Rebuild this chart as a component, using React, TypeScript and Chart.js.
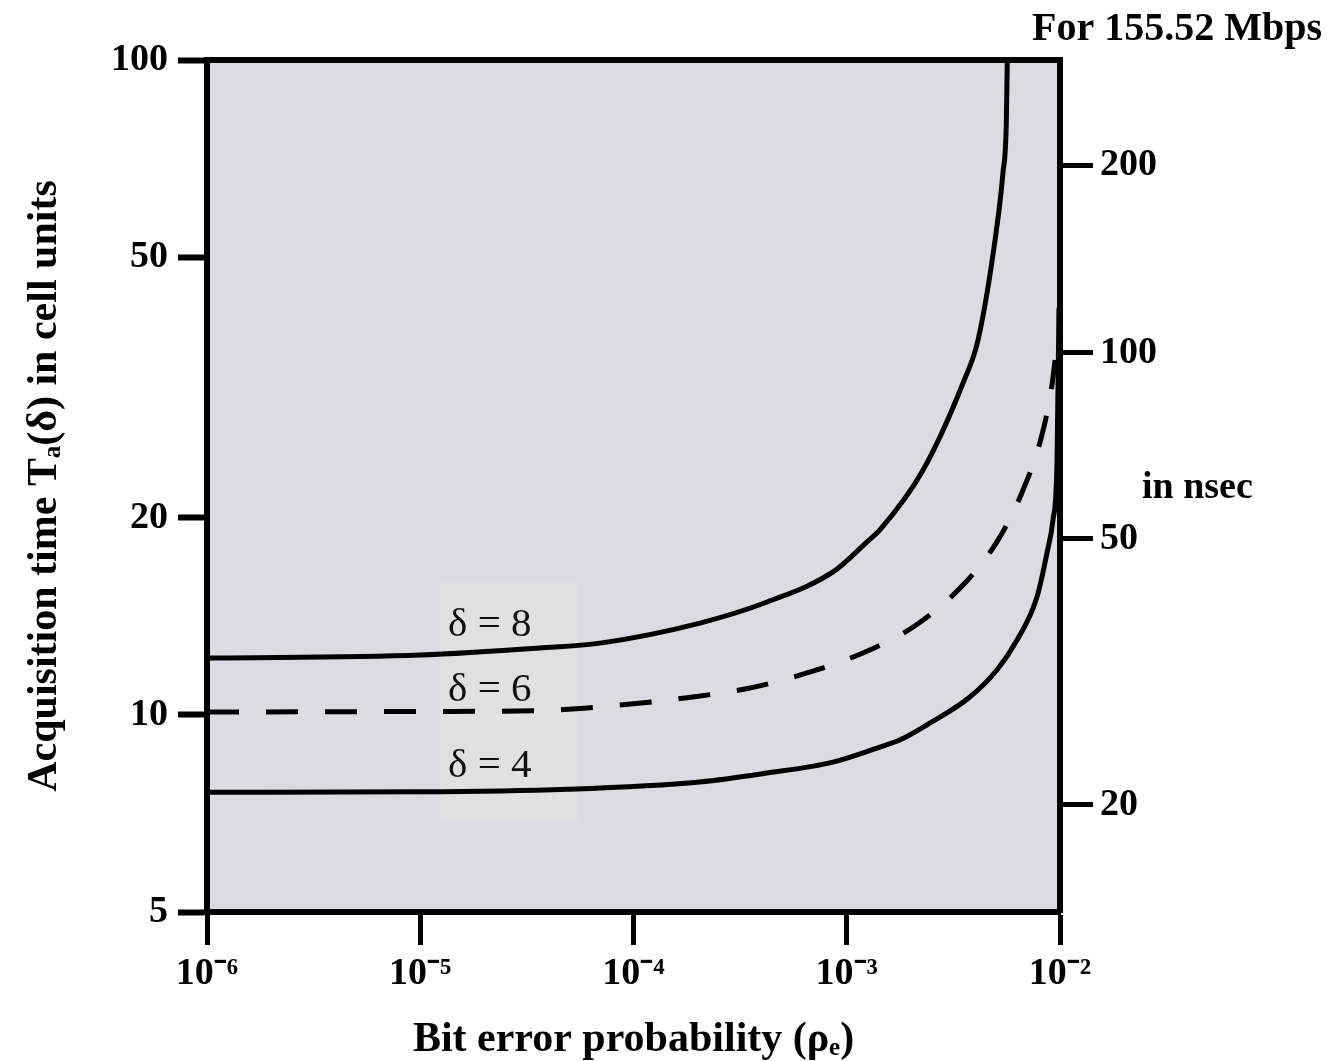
import React, { useEffect, useRef } from 'react';
import { Chart, registerables } from 'chart.js';

Chart.register(...registerables);

// ---- axis ticks ----
const xTicks = [1e-6, 1e-5, 1e-4, 1e-3, 1e-2];
const xTickLabels = ['10⁻⁶', '10⁻⁵', '10⁻⁴', '10⁻³', '10⁻²'];
const yTicks = [5, 10, 20, 50, 100];
const yTickLabels = ['5', '10', '20', '50', '100'];
// right axis (time at 155.52 Mbps), placed at the equivalent cell values
const rightTickCells = [7.29, 18.56, 35.7, 69.1];
const rightTickLabels = ['20', '50', '100', '200'];

// ---- series ----
const delta8X = [1e-6, 1e-5, 3.64e-5, 6.97e-5, 2.05e-4, 4.23e-4, 8.62e-4, 1.245e-3, 1.43e-3, 2.28e-3, 3.51e-3, 4.13e-3, 4.96e-3, 5.4e-3, 5.6e-3, 5.66e-3];
const delta8Y = [12.21, 12.34, 12.65, 12.87, 13.81, 14.87, 16.53, 18.37, 19.16, 23.65, 32.12, 37.4, 53.1, 67.2, 80, 100];

const delta6X = [1e-6, 1e-5, 3.6e-5, 8.64e-5, 1.9e-4, 3.52e-4, 6.51e-4, 1.19e-3, 2.05e-3, 3.4e-3, 5.06e-3, 6.71e-3, 8.23e-3, 9.17e-3, 9.48e-3];
const delta6Y = [10.1, 10.12, 10.15, 10.35, 10.65, 10.99, 11.59, 12.43, 13.62, 15.62, 18.37, 22.05, 26.76, 31.89, 34.83];

const delta4X = [1e-6, 1e-5, 4.93e-5, 2.05e-4, 4.23e-4, 8.62e-4, 1.43e-3, 1.78e-3, 2.46e-3, 3.78e-3, 5.06e-3, 6.29e-3, 7.8e-3, 8.69e-3, 9.27e-3, 9.68e-3, 9.89e-3];
const delta4Y = [7.62, 7.63, 7.7, 7.9, 8.15, 8.47, 8.93, 9.16, 9.72, 10.65, 11.71, 13.01, 15.14, 17.67, 19.84, 24.25, 41.8];

const seriesNames = ['δ = 8', 'δ = 6', 'δ = 4'];
const seriesLabelX = [2.12e-5, 2.12e-5, 2.12e-5];
const seriesLabelY = [13.72, 10.92, 8.36];

const titleText = 'For 155.52 Mbps';
const rightUnitText = 'in nsec';
const xTitle = 'Bit error probability (ρₑ)';
const yTitle = 'Acquisition time Tₐ(δ) in cell units';

const FONT = '"Liberation Serif", "Times New Roman", serif';

const toPts = (xs: number[], ys: number[]) => xs.map((x, i) => ({ x, y: ys[i] }));

const decor = {
  id: 'decor',
  beforeDraw(chart: any) {
    const { ctx, chartArea: a, scales } = chart;
    ctx.save();
    ctx.fillStyle = '#dcdbdf';
    ctx.fillRect(a.left, a.top, a.right - a.left, a.bottom - a.top);
    // lighter box behind the curve labels
    const bx0 = scales.x.getPixelForValue(1.24e-5);
    const bx1 = scales.x.getPixelForValue(5.5e-5);
    const by0 = scales.y.getPixelForValue(15.9);
    const by1 = scales.y.getPixelForValue(6.91);
    ctx.fillStyle = '#e0e0e1';
    ctx.fillRect(bx0, by0, bx1 - bx0, by1 - by0);
    ctx.restore();
  },
  afterDatasetsDraw(chart: any) {
    const { ctx, scales } = chart;
    ctx.save();
    ctx.fillStyle = '#111';
    ctx.font = `41px ${FONT}`;
    ctx.textAlign = 'center';
    ctx.textBaseline = 'middle';
    seriesNames.forEach((n, i) => {
      ctx.fillText(n, scales.x.getPixelForValue(seriesLabelX[i]), scales.y.getPixelForValue(seriesLabelY[i]));
    });
    ctx.restore();
  },
  afterDraw(chart: any) {
    const { ctx, chartArea: a } = chart;
    ctx.save();
    ctx.strokeStyle = '#000';
    ctx.lineWidth = 6;
    ctx.beginPath();
    ctx.moveTo(a.left - 3, a.top);
    ctx.lineTo(a.right + 3, a.top);
    ctx.stroke();
    ctx.fillStyle = '#000';
    ctx.font = `bold 38px ${FONT}`;
    ctx.textAlign = 'left';
    ctx.textBaseline = 'middle';
    ctx.fillText(rightUnitText, a.right + 82, a.top + 428);
    ctx.restore();
  },
};

export default function App() {
  const ref = useRef<HTMLCanvasElement | null>(null);
  useEffect(() => {
    if (!ref.current) return;
    const lineStyle = { borderColor: '#000', borderWidth: 5, pointRadius: 0, fill: false, cubicInterpolationMode: 'monotone' as const };
    const chart = new Chart(ref.current, {
      type: 'line',
      data: {
        datasets: [
          { label: seriesNames[0], data: toPts(delta8X, delta8Y), ...lineStyle },
          { label: seriesNames[1], data: toPts(delta6X, delta6Y), ...lineStyle, borderDash: [32, 27] },
          { label: seriesNames[2], data: toPts(delta4X, delta4Y), ...lineStyle },
        ],
      },
      options: {
        animation: false,
        responsive: false,
        layout: { padding: { left: 0, right: 5, top: 0, bottom: 0 } },
        plugins: {
          legend: { display: false },
          tooltip: { enabled: false },
          title: {
            display: true,
            text: titleText,
            align: 'end',
            position: 'top',
            color: '#000',
            font: { family: FONT, size: 40, weight: 'bold', lineHeight: 1.2 },
            padding: { top: 6, bottom: 6 },
          },
        },
        scales: {
          x: {
            type: 'logarithmic',
            position: 'bottom',
            min: 1e-6,
            max: 1e-2,
            afterBuildTicks: (s: any) => { s.ticks = xTicks.map((v) => ({ value: v })); },
            afterFit: (s: any) => { s.height = 149; },
            ticks: {
              autoSkip: false,
              maxRotation: 0,
              padding: 6,
              color: '#000',
              font: { family: FONT, size: 38, weight: 'bold', lineHeight: 1.2 },
              callback: (_v: any, i: number) => xTickLabels[i],
            },
            grid: { display: true, drawOnChartArea: false, drawTicks: true, tickLength: 33, tickWidth: 5, tickColor: '#000', color: '#000' },
            border: { display: true, width: 6, color: '#000' },
            title: {
              display: true,
              text: xTitle,
              color: '#000',
              font: { family: FONT, size: 42, weight: 'bold', lineHeight: 1.0 },
              padding: { top: 0, bottom: 0 },
            },
          },
          y: {
            type: 'logarithmic',
            position: 'left',
            min: 5,
            max: 100,
            afterBuildTicks: (s: any) => { s.ticks = yTicks.map((v) => ({ value: v })); },
            afterFit: (s: any) => { s.width = 207; },
            ticks: {
              autoSkip: false,
              padding: 10,
              color: '#000',
              font: { family: FONT, size: 38, weight: 'bold', lineHeight: 1.2 },
              callback: (_v: any, i: number) => yTickLabels[i],
            },
            grid: { display: true, drawOnChartArea: false, drawTicks: true, tickLength: 29, tickWidth: 6, tickColor: '#000', color: '#000' },
            border: { display: true, width: 6, color: '#000' },
            title: {
              display: true,
              text: yTitle,
              color: '#000',
              font: { family: FONT, size: 42, weight: 'bold', lineHeight: 1.0 },
              padding: { top: 24, bottom: 0 },
            },
          },
          y2: {
            type: 'logarithmic',
            position: 'right',
            min: 5,
            max: 100,
            afterBuildTicks: (s: any) => { s.ticks = rightTickCells.map((v) => ({ value: v })); },
            afterFit: (s: any) => { s.width = 262; },
            ticks: {
              autoSkip: false,
              padding: 7,
              color: '#000',
              font: { family: FONT, size: 38, weight: 'bold', lineHeight: 1.2 },
              callback: (_v: any, i: number) => rightTickLabels[i],
            },
            grid: { display: true, drawOnChartArea: false, drawTicks: true, tickLength: 33, tickWidth: 5, tickColor: '#000', color: '#000' },
            border: { display: true, width: 6, color: '#000' },
          },
        },
      },
      plugins: [decor],
    } as any);
    return () => chart.destroy();
  }, []);
  return (
    <div style={{ position: 'fixed', left: 0, top: 0, width: 1327, height: 1061, background: '#fff' }}>
      <canvas ref={ref} width={1327} height={1061} style={{ width: 1327, height: 1061, display: 'block' }} />
    </div>
  );
}
